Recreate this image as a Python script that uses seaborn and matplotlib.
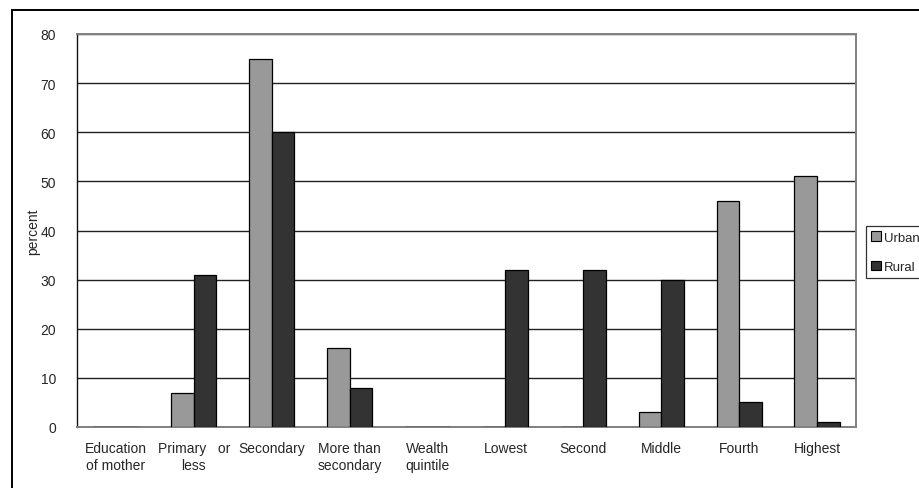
import matplotlib
matplotlib.use("Agg")
import matplotlib.pyplot as plt
from matplotlib.patches import Rectangle, Patch
import seaborn as sns
import pandas as pd

categories = ["Education\nof mother", "Primary   or\nless", "Secondary", "More than\nsecondary",
              "Wealth\nquintile", "Lowest", "Second", "Middle", "Fourth", "Highest"]
urban = [0, 7, 75, 16, 0, 0, 0, 3, 46, 51]
rural = [0, 31, 60, 8, 0, 32, 32, 30, 5, 1]
series = ["Urban", "Rural"]
colors = {"Urban": "#999999", "Rural": "#333333"}
yticks = [0, 10, 20, 30, 40, 50, 60, 70, 80]

df = pd.DataFrame({
    "category": categories * 2,
    "percent": urban + rural,
    "area": ["Urban"] * len(categories) + ["Rural"] * len(categories),
})

sns.set_style("white")
plt.rcParams["font.family"] = ["Liberation Sans", "DejaVu Sans"]

fig = plt.figure(figsize=(9.2, 4.89), dpi=100)
ax = fig.add_axes([77 / 920, 1 - 428 / 489, (856 - 77) / 920, (428 - 35) / 489])

sns.barplot(data=df, x="category", y="percent", hue="area", order=categories,
            hue_order=series, palette=colors, width=0.58, dodge=True,
            edgecolor="black", linewidth=0.9, legend=False, ax=ax, zorder=3)

ax.set_xlim(-0.5, len(categories) - 0.5)
ax.set_ylim(0, 80)
ax.set_yticks(yticks)
ax.set_yticklabels([str(v) for v in yticks], fontsize=10)
ax.yaxis.grid(True, color="#222222", linewidth=1.0, zorder=0)
ax.set_axisbelow(True)

# category labels without ticks, tick marks at category boundaries
ax.set_xticks(range(len(categories)))
ax.set_xticklabels(categories, fontsize=10, linespacing=1.25)
ax.tick_params(axis="x", which="major", length=0, pad=10)
ax.set_xticks([i + 0.5 for i in range(-1, len(categories))], minor=True)
ax.tick_params(axis="x", which="minor", length=5, width=1, color="#333333", direction="out")
ax.tick_params(axis="y", length=5, width=1, color="#333333", direction="out", pad=10)

ax.set_xlabel("")
ax.set_ylabel("percent", fontsize=10, labelpad=0)

for side in ["top", "right", "bottom"]:
    ax.spines[side].set_color("#808080")
    ax.spines[side].set_linewidth(1.4)
ax.spines["left"].set_color("#111111")
ax.spines["left"].set_linewidth(1.0)

# legend box at the right edge
handles = [Patch(facecolor=colors[s], edgecolor="black", linewidth=0.8, label=s) for s in series]
leg = fig.legend(handles=handles, loc="upper left", bbox_to_anchor=(866 / 920, 1 - 227 / 489),
                 frameon=True, fancybox=False, fontsize=9.5, handlelength=0.7, handleheight=0.7,
                 handletextpad=0.25, borderpad=0.4, labelspacing=1.3, borderaxespad=0)
leg.get_frame().set_edgecolor("black")
leg.get_frame().set_linewidth(0.9)

# outer chart frame
fig.patches.append(Rectangle((12 / 920, -0.05), 1.0, 1 - 11 / 489 + 0.05,
                             transform=fig.transFigure, fill=False,
                             edgecolor="black", linewidth=1.4))

fig.savefig("out.png", dpi=100)
